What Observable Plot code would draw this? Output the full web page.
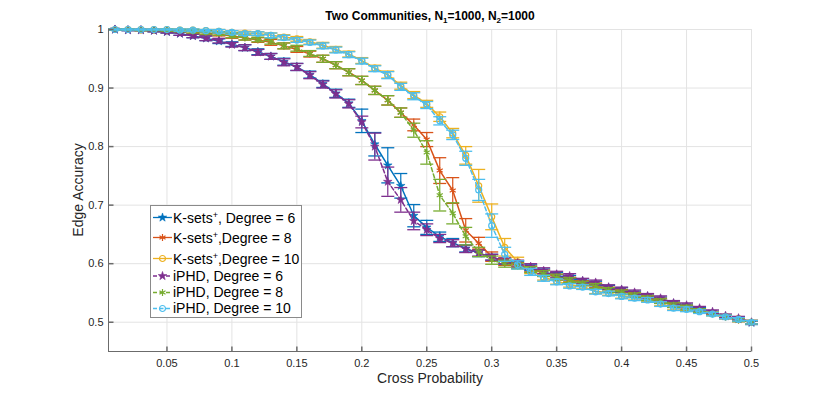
<!DOCTYPE html>
<html><head><meta charset="utf-8">
<script src="https://cdn.jsdelivr.net/npm/d3@7"></script>
<script src="https://cdn.jsdelivr.net/npm/@observablehq/plot@0.6"></script>
<style>
body{margin:0;background:#fff;}
#chart{width:830px;height:395px;}
</style>
</head><body><div id="chart"></div>
<script>
const crossProb = [0.01,0.02,0.03,0.04,0.05,0.06,0.07,0.08,0.09,0.10,
 0.11,0.12,0.13,0.14,0.15,0.16,0.17,0.18,0.19,0.20,
 0.21,0.22,0.23,0.24,0.25,0.26,0.27,0.28,0.29,0.30,
 0.31,0.32,0.33,0.34,0.35,0.36,0.37,0.38,0.39,0.40,
 0.41,0.42,0.43,0.44,0.45,0.46,0.47,0.48,0.49,0.50];

const ksets6 = [1.000,0.999,0.999,0.998,0.996,0.993,0.989,0.985,0.980,0.975,
 0.969,0.962,0.954,0.945,0.936,0.923,0.907,0.891,0.874,0.844,
 0.804,0.768,0.733,0.682,0.662,0.646,0.636,0.626,0.618,0.611,
 0.604,0.599,0.593,0.586,0.580,0.576,0.570,0.566,0.559,0.555,
 0.549,0.544,0.539,0.532,0.527,0.522,0.516,0.510,0.505,0.499];
const ksets6Err = [0.001,0.001,0.001,0.002,0.002,0.003,0.003,0.004,0.004,0.004,
 0.005,0.005,0.005,0.006,0.006,0.006,0.006,0.007,0.007,0.020,
 0.020,0.030,0.021,0.019,0.012,0.008,0.007,0.006,0.006,0.005,
 0.005,0.005,0.005,0.005,0.005,0.004,0.004,0.004,0.004,0.004,
 0.004,0.004,0.004,0.004,0.004,0.003,0.003,0.003,0.003,0.003];

const ksets8 = [1.000,1.000,0.999,0.999,0.998,0.998,0.996,0.994,0.992,0.989,
 0.986,0.982,0.978,0.972,0.966,0.958,0.950,0.939,0.927,0.913,
 0.896,0.879,0.858,0.837,0.812,0.759,0.725,0.657,0.635,0.612,
 0.603,0.597,0.591,0.584,0.577,0.573,0.567,0.563,0.556,0.552,
 0.547,0.542,0.537,0.530,0.525,0.520,0.515,0.509,0.504,0.500];
const ksets8Err = [0.001,0.001,0.001,0.001,0.002,0.002,0.003,0.003,0.003,0.004,
 0.004,0.004,0.005,0.005,0.005,0.005,0.006,0.006,0.006,0.007,
 0.007,0.008,0.008,0.010,0.012,0.022,0.022,0.020,0.010,0.008,
 0.006,0.005,0.005,0.005,0.005,0.004,0.004,0.004,0.004,0.004,
 0.004,0.004,0.004,0.004,0.004,0.003,0.003,0.003,0.003,0.003];

const ksets10 = [1.000,1.000,1.000,1.000,1.000,0.999,0.999,0.998,0.997,0.995,
 0.994,0.993,0.990,0.987,0.984,0.979,0.973,0.966,0.958,0.947,
 0.934,0.923,0.904,0.888,0.873,0.851,0.823,0.785,0.733,0.680,
 0.628,0.603,0.589,0.577,0.570,0.564,0.561,0.553,0.550,0.545,
 0.542,0.539,0.532,0.525,0.523,0.519,0.515,0.510,0.506,0.500];
const ksets10Err = [0.001,0.001,0.001,0.001,0.001,0.002,0.002,0.002,0.003,0.003,
 0.003,0.003,0.004,0.004,0.004,0.004,0.005,0.005,0.005,0.005,
 0.005,0.006,0.006,0.006,0.006,0.008,0.008,0.015,0.028,0.022,
 0.015,0.008,0.006,0.005,0.005,0.004,0.004,0.004,0.004,0.004,
 0.004,0.004,0.004,0.004,0.004,0.003,0.003,0.003,0.003,0.003];

const iphd6 = [1.000,0.999,0.999,0.998,0.996,0.993,0.989,0.985,0.981,0.974,
 0.969,0.961,0.954,0.944,0.936,0.922,0.906,0.890,0.873,0.842,
 0.800,0.740,0.709,0.673,0.658,0.643,0.635,0.625,0.618,0.611,
 0.605,0.601,0.595,0.588,0.582,0.579,0.571,0.568,0.560,0.556,
 0.551,0.545,0.541,0.533,0.529,0.524,0.518,0.511,0.507,0.500];
const iphd6Err = [0.001,0.001,0.001,0.002,0.002,0.003,0.003,0.004,0.004,0.004,
 0.005,0.005,0.005,0.006,0.006,0.006,0.006,0.007,0.007,0.010,
 0.023,0.025,0.021,0.015,0.010,0.007,0.006,0.006,0.005,0.005,
 0.005,0.005,0.005,0.005,0.005,0.004,0.004,0.004,0.004,0.004,
 0.004,0.004,0.004,0.004,0.004,0.003,0.003,0.003,0.003,0.003];

const iphd8 = [1.000,1.000,0.999,0.999,0.999,0.998,0.997,0.995,0.993,0.990,
 0.986,0.983,0.980,0.972,0.968,0.959,0.950,0.939,0.927,0.913,
 0.896,0.879,0.858,0.828,0.790,0.717,0.686,0.647,0.620,0.606,
 0.600,0.596,0.590,0.583,0.577,0.572,0.566,0.562,0.555,0.551,
 0.546,0.541,0.536,0.529,0.525,0.520,0.514,0.509,0.504,0.500];
const iphd8Err = [0.001,0.001,0.001,0.001,0.002,0.002,0.003,0.003,0.003,0.004,
 0.004,0.004,0.005,0.005,0.005,0.005,0.006,0.006,0.006,0.007,
 0.007,0.008,0.008,0.012,0.020,0.027,0.018,0.015,0.008,0.007,
 0.006,0.005,0.005,0.005,0.005,0.004,0.004,0.004,0.004,0.004,
 0.004,0.004,0.004,0.004,0.004,0.003,0.003,0.003,0.003,0.003];

const iphd10 = [1.000,1.000,1.000,1.000,1.000,0.999,0.999,0.998,0.997,0.995,
 0.993,0.993,0.990,0.986,0.982,0.978,0.972,0.965,0.957,0.946,
 0.933,0.922,0.902,0.886,0.871,0.844,0.820,0.780,0.726,0.665,
 0.616,0.598,0.586,0.575,0.569,0.562,0.560,0.552,0.549,0.544,
 0.541,0.538,0.531,0.524,0.522,0.518,0.514,0.509,0.505,0.500];
const iphd10Err = [0.001,0.001,0.001,0.001,0.001,0.002,0.002,0.002,0.003,0.003,
 0.003,0.003,0.004,0.004,0.004,0.004,0.005,0.005,0.005,0.005,
 0.005,0.006,0.006,0.006,0.006,0.007,0.008,0.012,0.018,0.020,
 0.012,0.007,0.006,0.005,0.005,0.004,0.004,0.004,0.004,0.004,
 0.004,0.004,0.004,0.004,0.004,0.003,0.003,0.003,0.003,0.003];

const xTicks = [0.05,0.1,0.15,0.2,0.25,0.3,0.35,0.4,0.45,0.5];
const yTicks = [0.5,0.6,0.7,0.8,0.9,1];
const xDomain = [0.005, 0.5];
const yDomain = [0.45, 1];

const legendLabels = [
  ["K-sets", "+", ", Degree = 6"],
  ["K-sets", "+", ",Degree = 8"],
  ["K-sets", "+", ",Degree = 10"],
  ["iPHD, Degree = 6", "", ""],
  ["iPHD, Degree = 8", "", ""],
  ["iPHD, Degree = 10", "", ""]
];

// styles (not data)
const series = [
  {values: ksets6,  err: ksets6Err,  color: "#0072BD", dash: null,  symbol: "star"},
  {values: ksets8,  err: ksets8Err,  color: "#D95319", dash: null,  symbol: "asterisk"},
  {values: ksets10, err: ksets10Err, color: "#EDB120", dash: null,  symbol: "circle"},
  {values: iphd6,   err: iphd6Err,   color: "#7E2F8E", dash: "4,2.5", symbol: "star"},
  {values: iphd8,   err: iphd8Err,   color: "#77AC30", dash: "4,2.5", symbol: "asterisk"},
  {values: iphd10,  err: iphd10Err,  color: "#4DBEEE", dash: "4,2.5", symbol: "circle"}
];
const symR = {star: 2.7, asterisk: 3.3, circle: 3};

const capSymbol = {draw(ctx, size){const r = Math.sqrt(size/Math.PI); ctx.moveTo(-r,0); ctx.lineTo(r,0);}};
const tickUp = {draw(ctx, size){const r = Math.sqrt(size/Math.PI); ctx.moveTo(0,0); ctx.lineTo(0,-r);}};
const tickRight = {draw(ctx, size){const r = Math.sqrt(size/Math.PI); ctx.moveTo(0,0); ctx.lineTo(r,0);}};

const marks = [
  Plot.gridX(xTicks, {stroke: "#e3e3e3", strokeOpacity: 1}),
  Plot.gridY(yTicks, {stroke: "#e3e3e3", strokeOpacity: 1}),
];

series.forEach((s) => {
  const rows = crossProb.map((x, i) => ({x, y: s.values[i], e: s.err[i]}));
  marks.push(
    Plot.ruleX(rows, {x: "x", y1: d => d.y - d.e, y2: d => d.y + d.e, stroke: s.color, strokeWidth: 1.2}),
    Plot.dot(rows, {x: "x", y: d => d.y + d.e, symbol: capSymbol, r: 6.5, fill: "none", stroke: s.color, strokeWidth: 1.3}),
    Plot.dot(rows, {x: "x", y: d => d.y - d.e, symbol: capSymbol, r: 6.5, fill: "none", stroke: s.color, strokeWidth: 1.3}),
    Plot.line(rows, {x: "x", y: "y", stroke: s.color, strokeWidth: 1.5, strokeDasharray: s.dash}),
    s.symbol === "star"
      ? Plot.dot(rows, {x: "x", y: "y", symbol: "star", r: symR.star, fill: s.color, stroke: s.color, strokeWidth: 0.6})
      : Plot.dot(rows, {x: "x", y: "y", symbol: s.symbol, r: symR[s.symbol], fill: "none", stroke: s.color, strokeWidth: 1.2})
  );
});

marks.push(
  Plot.ruleX([xDomain[0]], {stroke: "#6b6b6b", strokeWidth: 1}),
  Plot.ruleY([yDomain[0]], {stroke: "#6b6b6b", strokeWidth: 1}),
  Plot.dot(xTicks, {x: d => d, y: () => yDomain[0], symbol: tickUp, r: 5, stroke: "#6b6b6b", fill: "none"}),
  Plot.dot(yTicks, {x: () => xDomain[0], y: d => d, symbol: tickRight, r: 5, stroke: "#6b6b6b", fill: "none"}),
  Plot.axisX({ticks: xTicks, tickSize: 0, tickPadding: 8, tickFormat: d => String(d), label: null, fontSize: 11}),
  Plot.axisY({ticks: yTicks, tickSize: 0, tickPadding: 5, tickFormat: d => String(d), label: null, fontSize: 11})
);

const chart = Plot.plot({
  width: 830, height: 395,
  marginLeft: 108, marginRight: 79, marginTop: 29, marginBottom: 44,
  x: {domain: xDomain},
  y: {domain: yDomain},
  style: {fontFamily: "'Liberation Sans', Arial, sans-serif", fontSize: "11px", color: "#262626", background: "#fff"},
  marks
});
document.getElementById("chart").appendChild(chart);

// Titles, axis labels, legend drawn into the same SVG
const svg = d3.select(chart);
const ff = "'Liberation Sans', Arial, sans-serif";
const title = svg.append("text").attr("x", 430).attr("y", 20).attr("text-anchor", "middle")
  .attr("font-family", ff).attr("font-size", 12).attr("font-weight", "bold").attr("fill", "#000");
title.append("tspan").text("Two Communities, N");
title.append("tspan").attr("font-size", 8).attr("dy", 3).text("1");
title.append("tspan").attr("dy", -3).text("=1000, N");
title.append("tspan").attr("font-size", 8).attr("dy", 3).text("2");
title.append("tspan").attr("dy", -3).text("=1000");

svg.append("text").attr("transform", "translate(83,190) rotate(-90)").attr("text-anchor", "middle")
  .attr("font-family", ff).attr("font-size", 14).attr("fill", "#262626").text("Edge Accuracy");
svg.append("text").attr("x", 430).attr("y", 383).attr("text-anchor", "middle")
  .attr("font-family", ff).attr("font-size", 14).attr("fill", "#262626").text("Cross Probability");

const lg = svg.append("g").attr("text-anchor", "start");
lg.append("rect").attr("x", 150.5).attr("y", 205.5).attr("width", 151).attr("height", 112)
  .attr("fill", "#fff").attr("stroke", "#8a8a8a").attr("stroke-width", 1);
const markerYs = [217.5, 237.5, 258.5, 276, 292.5, 308.5];
const baseYs = [223, 243, 264, 280.5, 297, 313];
series.forEach((s, i) => {
  const my = markerYs[i];
  lg.append("line").attr("x1", 153).attr("x2", 172).attr("y1", my).attr("y2", my)
    .attr("stroke", s.color).attr("stroke-width", 1.3).attr("stroke-dasharray", s.dash);
  const typ = s.symbol === "star" ? d3.symbolStar : s.symbol === "asterisk" ? d3.symbolAsterisk : d3.symbolCircle;
  const r = symR[s.symbol];
  lg.append("path").attr("d", d3.symbol(typ, r * r * Math.PI)()).attr("transform", `translate(162.5,${my})`)
    .attr("fill", s.symbol === "star" ? s.color : "none").attr("stroke", s.color)
    .attr("stroke-width", s.symbol === "star" ? 0.6 : 1.2);
  const t = lg.append("text").attr("x", 173).attr("y", baseYs[i]).attr("font-family", ff)
    .attr("text-anchor", "start").attr("font-size", 14).attr("fill", "#000");
  const [a, sup, b] = legendLabels[i];
  t.append("tspan").text(a);
  if (sup) {
    t.append("tspan").attr("font-size", 9).attr("dy", -5).text(sup);
    t.append("tspan").attr("dy", 5).text(b);
  }
});
</script>
</body></html>
